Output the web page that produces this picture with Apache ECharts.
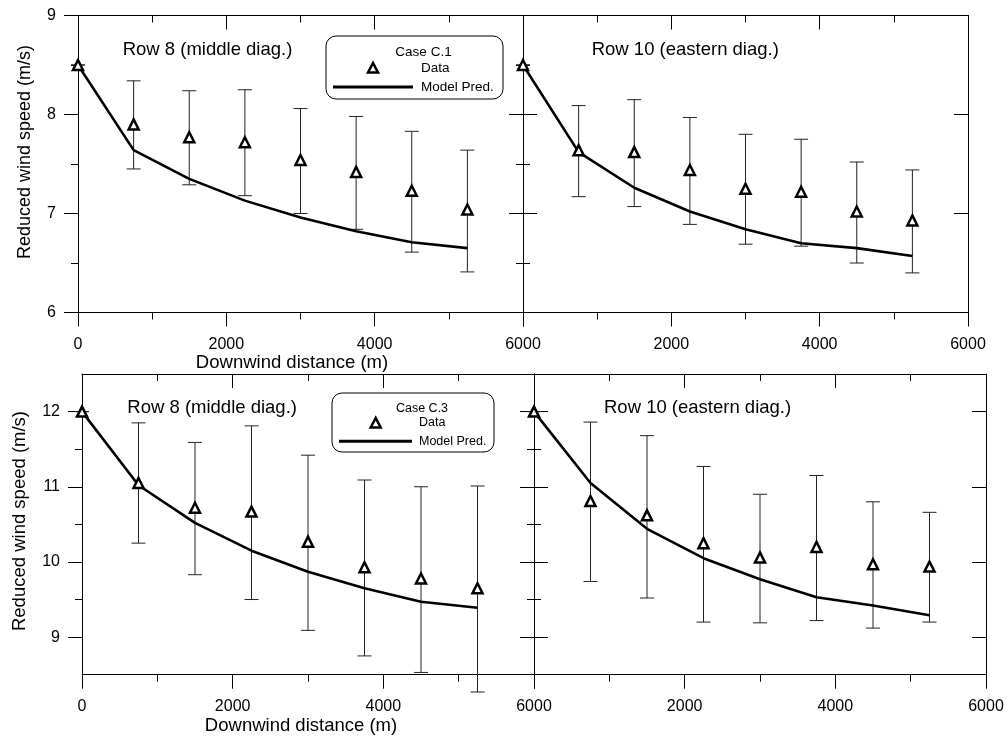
<!DOCTYPE html>
<html>
<head>
<meta charset="utf-8">
<script src="https://cdn.jsdelivr.net/npm/echarts@6/dist/echarts.min.js"></script>
<style>
  html, body { margin: 0; padding: 0; background: #fff; }
  #chart { width: 1007px; height: 738px; }
</style>
</head>
<body>
<div id="chart"></div>
<script>
// downwind positions (m), same for all panels
var distX = [0, 750, 1500, 2250, 3000, 3750, 4500, 5250];

// Case C.1, Row 8 (middle diag.)
var c1Row8Data  = [8.5, 7.90, 7.77, 7.72, 7.54, 7.42, 7.23, 7.04];
var c1Row8Lo    = [8.5, 7.45, 7.29, 7.18, 7.00, 6.84, 6.61, 6.41];
var c1Row8Hi    = [8.5, 8.34, 8.24, 8.25, 8.06, 7.98, 7.83, 7.64];
var c1Row8Model = [8.5, 7.64, 7.35, 7.13, 6.96, 6.82, 6.71, 6.65];

// Case C.1, Row 10 (eastern diag.)
var c1Row10Data  = [8.5, 7.64, 7.62, 7.44, 7.25, 7.22, 7.02, 6.93];
var c1Row10Lo    = [8.5, 7.17, 7.07, 6.89, 6.69, 6.67, 6.50, 6.40];
var c1Row10Hi    = [8.5, 8.09, 8.15, 7.97, 7.80, 7.75, 7.52, 7.44];
var c1Row10Model = [8.5, 7.62, 7.26, 7.02, 6.84, 6.70, 6.65, 6.57];

// Case C.3, Row 8 (middle diag.)
var c3Row8Data  = [12.0, 11.05, 10.72, 10.67, 10.27, 9.93, 9.78, 9.65];
var c3Row8Lo    = [12.0, 10.25, 9.83, 9.50, 9.09, 8.75, 8.53, 8.27];
var c3Row8Hi    = [12.0, 11.85, 11.59, 11.81, 11.42, 11.09, 11.00, 11.01];
var c3Row8Model = [12.0, 11.02, 10.52, 10.15, 9.87, 9.65, 9.47, 9.39];

// Case C.3, Row 10 (eastern diag.)
var c3Row10Data  = [12.0, 10.81, 10.62, 10.25, 10.06, 10.20, 9.97, 9.94];
var c3Row10Lo    = [12.0, 9.74, 9.52, 9.20, 9.19, 9.22, 9.12, 9.20];
var c3Row10Hi    = [12.0, 11.86, 11.68, 11.27, 10.90, 11.15, 10.80, 10.66];
var c3Row10Model = [12.0, 11.05, 10.44, 10.05, 9.77, 9.53, 9.42, 9.29];

// axis ticks
var xTicks = [0, 2000, 4000, 6000];
var topMajor = [6, 7, 8, 9];
var topMinor = [6.5, 7.5, 8.5];
var botMajor = [9, 10, 11, 12];
var botMinor = [9.5, 10.5, 11.5];

var FONT = 'Liberation Sans, Arial, sans-serif';

var panels = [
    {grid: {left: 78, top: 15.5, width: 445, height: 297}, yMin: 6, yMax: 9, major: topMajor, minor: topMinor,
     isLeft: true, data: c1Row8Data, lo: c1Row8Lo, hi: c1Row8Hi, model: c1Row8Model},
    {grid: {left: 523, top: 15.5, width: 445, height: 297}, yMin: 6, yMax: 9, major: topMajor, minor: topMinor,
     isLeft: false, data: c1Row10Data, lo: c1Row10Lo, hi: c1Row10Hi, model: c1Row10Model},
    {grid: {left: 82, top: 374, width: 452, height: 300.7}, yMin: 8.5, yMax: 12.5, major: botMajor, minor: botMinor,
     isLeft: true, data: c3Row8Data, lo: c3Row8Lo, hi: c3Row8Hi, model: c3Row8Model},
    {grid: {left: 534, top: 374, width: 452, height: 300.7}, yMin: 8.5, yMax: 12.5, major: botMajor, minor: botMinor,
     isLeft: false, data: c3Row10Data, lo: c3Row10Lo, hi: c3Row10Hi, model: c3Row10Model}
];

var blackLine = {color: '#000', width: 1};

function pairs(xs, ys) {
    return xs.map(function (x, k) { return [x, ys[k]]; });
}

function renderBar(params, api) {
    var x = api.value(0);
    var p1 = api.coord([x, api.value(1)]);
    var p2 = api.coord([x, api.value(2)]);
    var w = 7;
    var st = {stroke: '#222', lineWidth: 1};
    return {
        type: 'group',
        children: [
            {type: 'line', shape: {x1: p1[0], y1: p1[1], x2: p2[0], y2: p2[1]}, style: st},
            {type: 'line', shape: {x1: p1[0] - w, y1: p1[1], x2: p1[0] + w, y2: p1[1]}, style: st},
            {type: 'line', shape: {x1: p2[0] - w, y1: p2[1], x2: p2[0] + w, y2: p2[1]}, style: st}
        ]
    };
}

var grids = [], xAxes = [], yAxes = [], series = [];

panels.forEach(function (p, i) {
    grids.push(p.grid);

    // bottom x axis (labels), top x axis (inner ticks)
    xAxes.push({
        gridIndex: i, type: 'value', position: 'bottom', min: 0, max: 6000, interval: 2000,
        axisLine: {show: true, lineStyle: blackLine},
        axisTick: {show: true, inside: false, length: 14, lineStyle: blackLine},
        minorTick: {show: true, splitNumber: 2, length: 7, lineStyle: blackLine},
        axisLabel: {
            show: true, margin: 24, fontSize: 16, fontFamily: FONT, color: '#000',
            formatter: function (v) { return (!p.isLeft && v === 0) ? '' : String(v); }
        },
        splitLine: {show: false}
    });
    xAxes.push({
        gridIndex: i, type: 'value', position: 'top', min: 0, max: 6000, interval: 2000,
        axisLine: {show: true, lineStyle: blackLine},
        axisTick: {show: true, inside: true, length: 14, lineStyle: blackLine},
        minorTick: {show: true, splitNumber: 2, length: 7, lineStyle: blackLine},
        axisLabel: {show: false},
        splitLine: {show: false}
    });

    // y axes: left major, left minor, right major, right minor
    [['left', !p.isLeft], ['right', true]].forEach(function (side) {
        yAxes.push({
            gridIndex: i, type: 'value', position: side[0], min: p.yMin, max: p.yMax,
            axisLine: {show: true, onZero: false, lineStyle: blackLine},
            axisTick: {show: true, inside: side[1], length: 14, customValues: p.major, lineStyle: blackLine},
            axisLabel: {
                show: side[0] === 'left' && p.isLeft, customValues: p.major,
                margin: 22, fontSize: 16, fontFamily: FONT, color: '#000'
            },
            splitLine: {show: false}
        });
        yAxes.push({
            gridIndex: i, type: 'value', position: side[0], min: p.yMin, max: p.yMax,
            axisLine: {show: false},
            axisTick: {show: true, inside: side[1], length: 7, customValues: p.minor, lineStyle: blackLine},
            axisLabel: {show: false},
            splitLine: {show: false}
        });
    });

    var xi = 2 * i, yi = 4 * i;
    series.push({
        type: 'custom', xAxisIndex: xi, yAxisIndex: yi, clip: false, z: 2,
        renderItem: renderBar,
        encode: {x: 0, y: [1, 2]},
        data: distX.map(function (x, k) { return [x, p.lo[k], p.hi[k]]; })
    });
    series.push({
        type: 'line', name: 'Model Pred.', xAxisIndex: xi, yAxisIndex: yi, z: 3,
        symbol: 'none', lineStyle: {color: '#000', width: 2.6},
        data: pairs(distX, p.model)
    });
    series.push({
        type: 'scatter', name: 'Data', xAxisIndex: xi, yAxisIndex: yi, z: 5,
        symbol: 'triangle', symbolSize: 10,
        itemStyle: {color: '#fff', borderColor: '#000', borderWidth: 2.5, opacity: 1},
        data: pairs(distX, p.data)
    });
});

function txt(s, x, y, size, align, rot) {
    return {
        type: 'text', x: x, y: y, rotation: rot || 0, z: 10,
        style: {
            text: s, fontSize: size, fontFamily: FONT, fill: '#000',
            textAlign: align || 'left', align: align || 'left',
            textVerticalAlign: 'middle', verticalAlign: 'middle'
        }
    };
}

function legendBox(caseName, x, y, w, h, fs, tri, line, tx) {
    return [
        {type: 'rect', z: 9, shape: {x: x, y: y, width: w, height: h, r: 10},
         style: {fill: '#fff', stroke: '#000', lineWidth: 1}},
        txt(caseName, x + w / 2 + 9, y + 16, fs, 'center'),
        {type: 'polygon', z: 10,
         shape: {points: [[tri[0], tri[1] - 5], [tri[0] - 5, tri[1] + 4.5], [tri[0] + 5, tri[1] + 4.5]]},
         style: {fill: '#fff', stroke: '#000', lineWidth: 2.5}},
        txt('Data', tx, tri[1], fs, 'left'),
        {type: 'line', z: 10, shape: {x1: line[0], y1: line[2], x2: line[1], y2: line[2]},
         style: {stroke: '#000', lineWidth: 3}},
        txt('Model Pred.', tx, line[2], fs, 'left')
    ];
}

var graphics = [
    txt('Row 8 (middle diag.)', 122.7, 50, 18.5),
    txt('Row 10 (eastern diag.)', 591.7, 50, 18.5),
    txt('Row 8 (middle diag.)', 127.3, 408, 18.5),
    txt('Row 10 (eastern diag.)', 604, 408, 18.5),
    txt('Downwind distance (m)', 292, 363, 18.5, 'center'),
    txt('Downwind distance (m)', 301, 726, 18.5, 'center'),
    txt('Reduced wind speed (m/s)', 25, 152, 18, 'center', Math.PI / 2),
    txt('Reduced wind speed (m/s)', 20, 521, 18.5, 'center', Math.PI / 2)
].concat(
    legendBox('Case C.1', 326, 36, 177, 63, 13.5, [373, 68], [333, 413, 87], 421),
    legendBox('Case C.3', 332, 393, 162, 59, 12.5, [375.7, 423], [339, 412, 441.3], 419)
);

var chart = echarts.init(document.getElementById('chart'));
chart.setOption({
    animation: false,
    backgroundColor: '#fff',
    grid: grids,
    xAxis: xAxes,
    yAxis: yAxes,
    series: series,
    graphic: graphics
});
</script>
</body>
</html>
